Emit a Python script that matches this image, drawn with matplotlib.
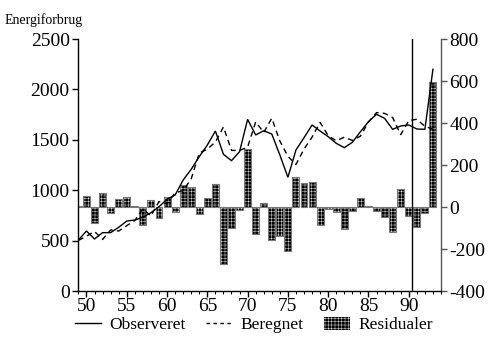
import matplotlib
matplotlib.use("Agg")
import matplotlib.pyplot as plt
from matplotlib.lines import Line2D
from matplotlib.patches import Patch
from matplotlib.ticker import MultipleLocator

plt.rcParams['font.family'] = ['Liberation Serif', 'DejaVu Serif']
plt.rcParams['axes.unicode_minus'] = False
plt.rcParams['hatch.linewidth'] = 0.3

years = list(range(49, 94))
observed = [505, 595, 516, 579, 579, 632, 694, 704, 731, 777, 836, 910, 952, 1101,
            1207, 1333, 1448, 1587, 1356, 1293, 1382, 1703, 1548, 1590, 1557, 1350,
            1128, 1399, 1521, 1647, 1587, 1531, 1465, 1422, 1475, 1580, 1680, 1753,
            1713, 1604, 1637, 1647, 1607, 1604, 2200]
predicted = [502, 543, 591, 511, 606, 595, 648, 700, 815, 744, 887, 864, 974, 996,
             1113, 1368, 1407, 1478, 1627, 1395, 1394, 1427, 1678, 1573, 1714, 1488,
             1336, 1255, 1408, 1527, 1673, 1541, 1490, 1526, 1494, 1536, 1677, 1770,
             1762, 1721, 1551, 1690, 1704, 1634, 1605]
residuals = [3, 52, -75, 68, -27, 37, 46, 4, -84, 33, -51, 46, -22, 105,
             94, -35, 41, 109, -271, -102, -12, 276, -130, 17, -157, -138,
             -208, 144, 113, 120, -86, -10, -25, -104, -19, 44, 3, -17,
             -49, -117, 86, -43, -97, -30, 595]
xticks = [50, 55, 60, 65, 70, 75, 80, 85, 90]
left_ticks = [0, 500, 1000, 1500, 2000, 2500]
right_ticks = [-400, -200, 0, 200, 400, 600, 800]
split_year = 90.4

HATCH = '+++++'

fig = plt.figure(figsize=(4.94, 3.45), dpi=100)
ax1 = fig.add_axes([78/494, 1-291/345, (441-78)/494, (291-39)/345])
ax2 = ax1.twinx()
ax1.set_zorder(ax2.get_zorder() + 1)
ax1.patch.set_visible(False)

# residual bars
ax2.bar(years, residuals, width=0.86, color='black', edgecolor='white',
        linewidth=0, hatch=HATCH, zorder=2)
ax2.bar(years, residuals, width=0.86, facecolor='none', edgecolor='#777777',
        linewidth=0.8, zorder=3)

ax1.plot(years, observed, color='black', lw=1.0, solid_joinstyle='miter')
ax1.plot(years, predicted, color='black', lw=1.0, ls=(0, (4, 3)))
ax1.axvline(split_year, color='black', lw=1.0)

ax1.set_xlim(48.95, 94.0)
ax1.set_ylim(0, 2500)
ax2.set_ylim(-400, 800)
ax1.set_yticks(left_ticks)
ax2.set_yticks(right_ticks)
ax1.set_xticks(xticks)
ax1.xaxis.set_minor_locator(MultipleLocator(1))

for a in (ax1, ax2):
    a.spines['top'].set_visible(False)
ax1.spines['right'].set_visible(False)
ax2.spines['left'].set_visible(False)
ax2.spines['bottom'].set_visible(False)
ax2.spines['right'].set_color('#555555')
ax2.spines['right'].set_linewidth(1.0)
ax1.spines['left'].set_linewidth(1.0)
ax1.spines['bottom'].set_linewidth(1.0)

ax1.tick_params(axis='y', labelsize=14, length=4, width=1, direction='out', pad=2)
ax2.tick_params(axis='y', labelsize=14, length=4, width=1, direction='out', pad=2,
                color='#555555')
ax1.tick_params(axis='x', which='major', labelsize=14, length=4, width=1, pad=1)
ax1.tick_params(axis='x', which='minor', length=2.5, width=0.8)

fig.text(5/494, 1-20/345, 'Energiforbrug', fontsize=10, va='center', ha='left')

handles = [Line2D([], [], color='black', lw=1.0),
           Line2D([], [], color='black', lw=1.0, ls=(0, (2.5, 2.5))),
           Patch(facecolor='black', edgecolor='white', hatch=HATCH, linewidth=0)]
fig.legend(handles, ['Observeret', 'Beregnet', 'Residualer'], loc='center',
           bbox_to_anchor=(0.514, 1-325/345), ncol=3, frameon=False, fontsize=12.5,
           handlelength=1.5, handletextpad=0.5, columnspacing=1.15,
           handleheight=0.8)

fig.savefig('out.png', dpi=100)
